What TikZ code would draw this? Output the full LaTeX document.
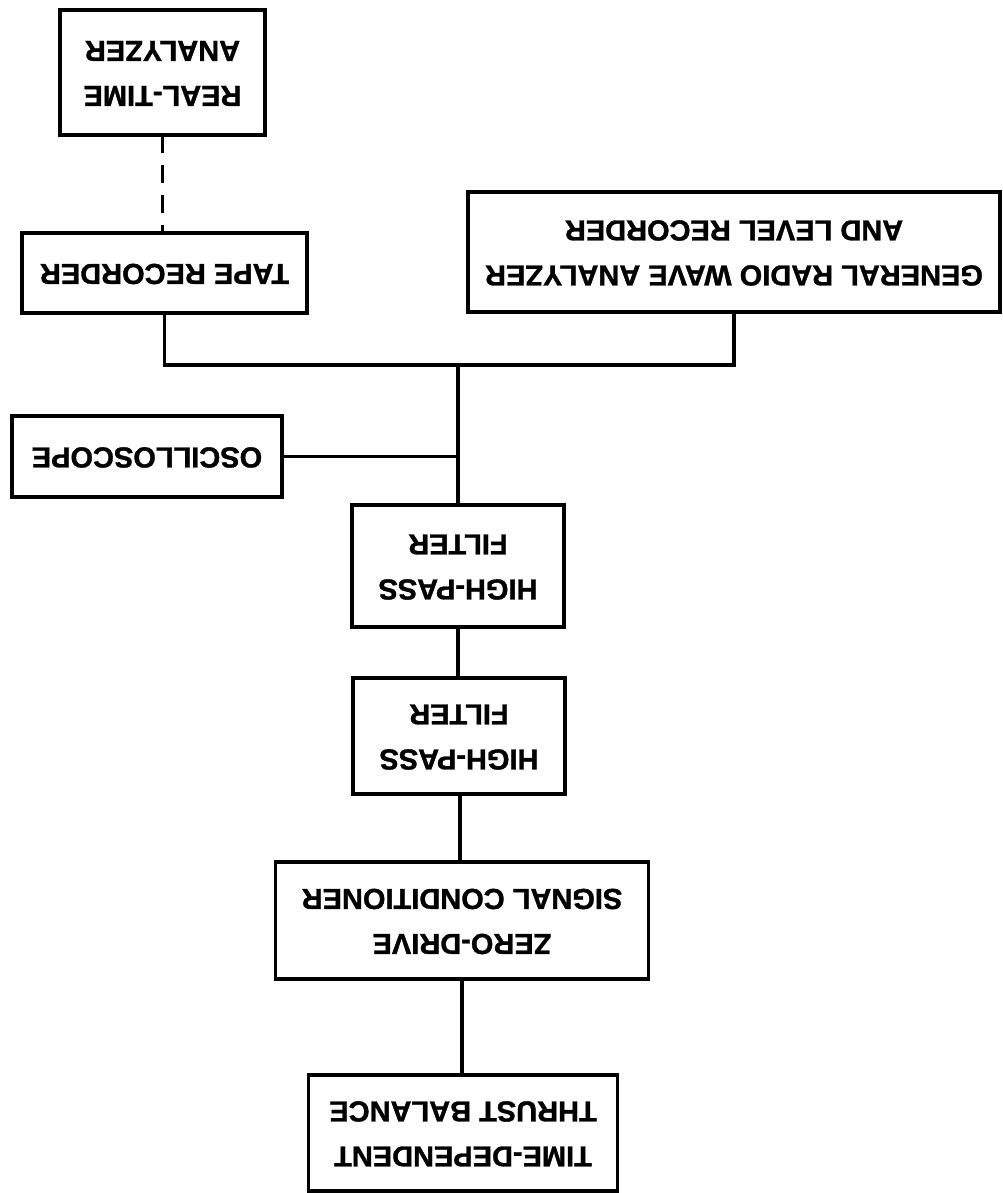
\documentclass[tikz,border=0pt]{standalone}
\usepackage{fontspec}
\setmainfont{Liberation Sans}[BoldFeatures={FakeBold=1.2}]
\usepackage{graphicx}
\begin{document}
\begin{tikzpicture}[x=1pt,y=-1pt,
  line width=3.5pt,
  box/.style={draw, rectangle, inner sep=0pt, outer sep=0pt,
    minimum width=#1, font=\fontsize{29}{45}\selectfont\bfseries},
  box/.default=200pt,
  link/.style={line width=3.5pt},
  dashlink/.style={line width=3.5pt, dash pattern=on 18pt off 12pt}]
% upside-down block labels
\newcommand{\flip}[1]{\rotatebox{180}{\begin{tabular}{@{}c@{}}#1\end{tabular}}}
\useasboundingbox (0,0) rectangle (1003,1193);
\fill[white] (0,0) rectangle (1003,1193);

\node[box=205pt, minimum height=125pt] (rta)  at (162.5,72.5) {\flip{REAL-TIME\\ANALYZER}};
\node[box=285pt, minimum height=80pt]  (tape) at (164.5,273)  {\flip{TAPE RECORDER}};
\node[box=532pt, minimum height=120pt] (gr)   at (734,252)    {\flip{GENERAL RADIO WAVE ANALYZER\\AND LEVEL RECORDER}};
\node[box=270pt, minimum height=81pt]  (osc)  at (147,456.5)  {\flip{OSCILLOSCOPE}};
\node[box=212pt, minimum height=122pt] (hpfa) at (458,566)    {\flip{HIGH-PASS\\FILTER}};
\node[box=212pt, minimum height=116pt] (hpfb) at (459,736)    {\flip{HIGH-PASS\\FILTER}};
\node[box=373pt, minimum height=117pt] (zd)   at (462,920.5)  {\flip{ZERO-DRIVE\\SIGNAL CONDITIONER}};
\node[box=309pt, minimum height=116pt] (tdtb) at (463,1133)   {\flip{TIME-DEPENDENT\\THRUST BALANCE}};

% signal bus
\coordinate (bus) at (458,365);
\draw[dashlink] (rta.south) -- (rta.south |- tape.north);
\draw[link] (tape.south) |- (bus) -| (gr.south);
\draw[link] (bus) -- (bus |- hpfa.north);
\draw[link] (osc.east) -- (osc.east -| bus);
\draw[link] (hpfa.south) -- (hpfa.south |- hpfb.north);
\draw[link] (hpfb.south -| 460,0) -- (460,0 |- zd.north);
\draw[link] (zd.south) -- (zd.south |- tdtb.north);
\end{tikzpicture}
\end{document}
